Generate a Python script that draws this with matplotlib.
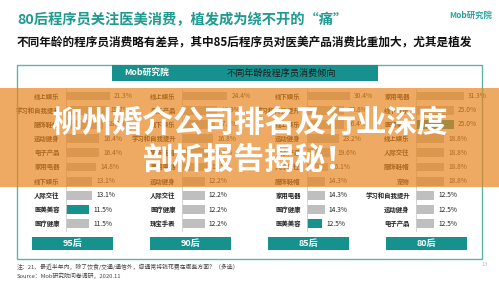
"""
不同年龄段程序员消费倾向（Mob研究院）の再現
"""

import matplotlib.pyplot as plt
from matplotlib.patches import Rectangle

plt.rcParams['font.family'] = ['Noto Sans CJK SC', 'DejaVu Sans']

# データ
p95_labels = ['线上娱乐', '学习和自我提升', '服饰鞋帽', '运动健身', '电子产品',
              '家用电器', '线下娱乐', '人际交往', '医美美容', '医疗健康']
p95_values = [21.3, 19.7, 18.0, 16.4, 16.4, 14.8, 13.1, 13.1, 11.5, 11.5]

p90_labels = ['线上娱乐', '电子产品', '线下娱乐', '学习和自我提升', '服饰鞋帽',
              '家用电器', '运动健身', '人际交往', '医疗健康', '珠宝手表']
p90_values = [24.4, 18.9, 17.6, 16.8, 14.9, 13.5, 12.2, 12.2, 12.2, 12.2]

p85_labels = ['线下娱乐', '学习和自我提升', '线上娱乐', '运动健身', '电子产品',
              '人际交往', '服饰鞋帽', '家用电器', '医疗健康', '医美美容']
p85_values = [30.4, 26.8, 26.4, 23.2, 19.6, 16.1, 14.3, 14.3, 14.3, 12.5]

p80_labels = ['家用电器', '线下娱乐', '医美美容', '线上娱乐', '人际交往',
              '服饰鞋帽', '宠物', '学习和自我提升', '运动健身', '电子产品']
p80_values = [31.3, 25.0, 25.0, 18.8, 18.8, 18.8, 18.8, 12.5, 12.5, 12.5]

group_names = ['95后', '90后', '85后', '80后']
highlight = '医美美容'

# 色
TEAL = '#17918e'
GRAY = '#bfbfbf'
ORANGE = '#e8861f'

W, H = 499, 281


def fx(px):
    return px / W


def fy(py):
    return 1 - py / H


fig = plt.figure(figsize=(W / 100, H / 100), dpi=100)
fig.patch.set_facecolor('white')

# タイトル
fig.text(fx(17), fy(20), '80后程序员关注医美消费，植发成为绕不开的“痛”',
         fontsize=10.3, fontweight='bold', color='#1f9a90', va='center')
fig.text(fx(17), fy(42), '不同年龄的程序员消费略有差异，其中85后程序员对医美产品消费比重加大，尤其是植发',
         fontsize=8.4, fontweight='bold', color='#111111', va='center')
fig.text(fx(492), fy(15), 'Mob研究院', fontsize=6, fontweight='bold', style='italic',
         color='#2aa39a', va='center', ha='right')

# 枠とヘッダー
fig.add_artist(Rectangle((fx(17), fy(259)), fx(465), 194 / H, transform=fig.transFigure,
                         fill=False, edgecolor='#5fb3ad', lw=1.0))
fig.add_artist(Rectangle((fx(112), fy(81)), fx(266), 16 / H, transform=fig.transFigure,
                         facecolor=TEAL, edgecolor='none'))
fig.text(fx(124), fy(73), 'Mob研究院', fontsize=6.3, fontweight='bold', style='italic',
         color='white', va='center')
fig.text(fx(281), fy(73), '不同年龄段程序员消费倾向', fontsize=6.6,
         color='#1a1a1a', va='center', ha='center')

# パネル: (ラベル, 値, バー開始x px, 軸の起点, px/%)
panels = [
    (p95_labels, p95_values, 66, 0.75, 2.14),
    (p90_labels, p90_values, 182, 0.0, 1.85),
    (p85_labels, p85_values, 307, 2.9, 1.56),
    (p80_labels, p80_values, 416, 1.2, 1.59),
]
buttons_x = [32, 150, 268, 386]

row0, row_step = 96, 14.2
n = 10
top = row0 - row_step / 2
height_px = row_step * n
ax_w = 80

for (labels, values, x0, v0, slope), name, bx in zip(panels, group_names, buttons_x):
    ax = fig.add_axes([fx(x0), fy(top + height_px), fx(ax_w), height_px / H])
    ax.set_xlim(v0, v0 + ax_w / slope)
    ax.set_ylim(n - 0.5, -0.5)
    colors = [TEAL if lab == highlight else GRAY for lab in labels]
    ax.barh(range(n), values, height=0.63, color=colors)
    for i, (lab, v) in enumerate(zip(labels, values)):
        ax.annotate(lab, (v0, i), xytext=(-4.5, 0), textcoords='offset points',
                    ha='right', va='center', fontsize=4.6, fontweight='bold',
                    color='#222222', annotation_clip=False)
        ax.annotate(f'{v:.1f}%', (v, i), xytext=(3, 0), textcoords='offset points',
                    ha='left', va='center', fontsize=4.8, color='#222222',
                    annotation_clip=False)
    for s in ['top', 'right', 'bottom']:
        ax.spines[s].set_visible(False)
    ax.spines['left'].set_color('#cfcfcf')
    ax.spines['left'].set_linewidth(0.6)
    ax.set_xticks([])
    ax.set_yticks([])
    ax.patch.set_alpha(0)

    # 下部のグループラベル
    fig.add_artist(Rectangle((fx(bx), fy(250)), fx(81), 13 / H, transform=fig.transFigure,
                             facecolor=TEAL, edgecolor='none'))
    fig.text(fx(bx + 40.5), fy(243.5), name, fontsize=6.5, fontweight='bold',
             color='white', ha='center', va='center')

# 注記
fig.text(fx(17), fy(267), '注：21、最近半年内，除了饮食/交通/通信外，您通常将钱花费在哪些方面？（多选）',
         fontsize=4.2, color='#444444', va='center')
fig.text(fx(17), fy(276), 'Source：Mob研究院问卷调研，2020.11',
         fontsize=4.2, color='#444444', va='center')
fig.text(fx(485), fy(265), '13', fontsize=4.2, color='#bbbbbb', va='center', ha='center')

# オレンジの帯とキャッチコピー
fig.add_artist(Rectangle((0, fy(187)), 1, 99 / H, transform=fig.transFigure,
                         facecolor=ORANGE, alpha=0.7, edgecolor='none', zorder=10))
fig.text(0.5, fy(123), '柳州婚介公司排名及行业深度', fontsize=22, fontweight='heavy',
         color='white', ha='center', va='center', zorder=11)
fig.text(0.5, fy(160), '剖析报告揭秘！', fontsize=22, fontweight='heavy',
         color='white', ha='center', va='center', zorder=11)

fig.savefig('out.png', dpi=100)
